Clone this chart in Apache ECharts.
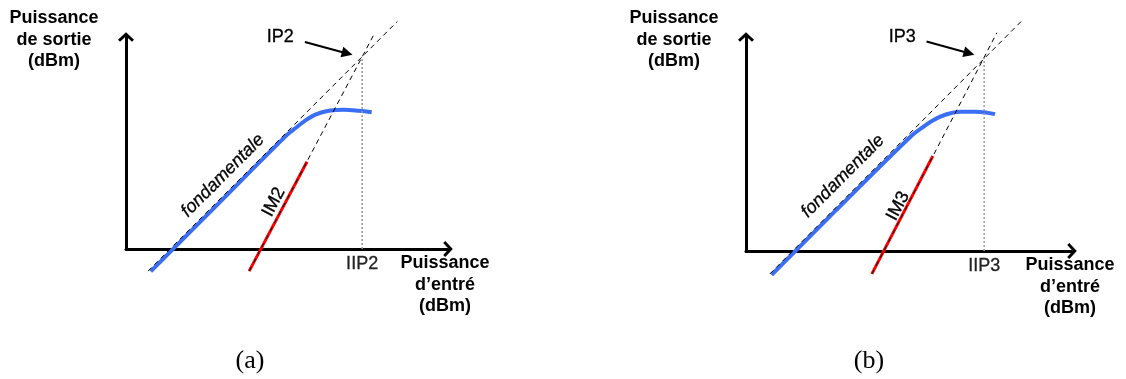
<!DOCTYPE html>
<html>
<head>
	<meta charset="utf-8">
	<title>IP2 / IP3</title>
	<script type="text/javascript" src="https://cdn.jsdelivr.net/npm/echarts@6/dist/echarts.min.js"></script>
	<style>
		html, body { margin:0; padding:0; background:#fff; }
		#DIV1 { width:1126px; height:379px; }
	</style>
</head>
<body>
	<div id="DIV1"></div>
	<script type="text/javascript">

		// panel (a) : second order intercept (x,y in dBm-like units)
		const fundA = [[7.4, -7.4], [91, 76.2]];
		const outA = [[8.3, -7.5], [30, 14.2], [54, 38.2], [57, 40.6], [60, 42.9], [63.5, 45.0], [68, 46.3], [73, 46.6], [78, 46.3], [82.4, 45.8]];
		const imA = [[41.3, -7.4], [60.7, 29.2]];
		const imDashA = [[41.3, -7.4], [83.4, 72.3]];
		const ipA = [79.2, 64.4];
		const arrowA = [[60.0, 69.3], [74.2, 65.5]];

		// panel (b) : third order intercept
		const fundB = [[7.9, -7.6], [91.1, 76.1]];
		const outB = [[8.5, -7.9], [30, 13.7], [55, 38.4], [58.5, 41.0], [62, 43.4], [66, 45.2], [71, 46.2], [76, 46.2], [82.5, 45.4]];
		const imB = [[41.7, -7.6], [61.9, 31.5]];
		const imDashB = [[41.7, -7.6], [83.1, 72.4]];
		const ipB = [78.9, 64.0];
		const arrowB = [[59.8, 69.5], [73.9, 65.6]];

		// texts
		const panelNames = ['(a)', '(b)'];
		const ipNames = ['IP2', 'IP3'];
		const iipNames = ['IIP2', 'IIP3'];
		const imNames = ['IM2', 'IM3'];
		const fundName = 'fondamentale';
		const yTitle = 'Puissance\nde sortie\n(dBm)';
		const xTitle = 'Puissance\nd\u2019entr\u00e9\n(dBm)';

		const X_MAX = 108, Y_MAX = 71;
		const FONT = '"Liberation Sans", Arial, sans-serif';
		const chevron = 'path://M8,0 L16,7.5 L14,9.6 L8,4 L2,9.6 L0,7.5 Z';

		let chart = echarts.init(document.getElementById('DIV1'));

		const axis = function(i, max){
			return {
				gridIndex: i, type: 'value', min: 0, max: max,
				axisLine: { show: true, onZero: false, symbol: ['none', chevron], symbolSize: [16, 10],
					lineStyle: { color: '#000', width: 3 } },
				axisTick: { show: false }, axisLabel: { show: false }, splitLine: { show: false }
			};
		};

		const line = function(i, data, color, width, type){
			return {
				type: 'line', xAxisIndex: i, yAxisIndex: i, data: data, symbol: 'none', clip: false,
				silent: true, lineStyle: { color: color, width: width, type: type || 'solid' }
			};
		};

		const panel = function(i, d){
			return [
				Object.assign(line(i, d.out, '#3a6ef4', 4), { smooth: 0.4 }),
				line(i, d.im, '#ff0000', 3),
				line(i, d.fund, '#000', 1, [5, 4]),
				line(i, d.imDash, '#000', 1, [5, 4]),
				line(i, [[d.ip[0], 0], d.ip], '#999', 1.5, [2, 2]),
				{
					type: 'lines', coordinateSystem: 'cartesian2d', xAxisIndex: i, yAxisIndex: i,
					clip: false, silent: true, symbol: ['none', 'triangle'], symbolSize: 11,
					lineStyle: { color: '#000', width: 2, opacity: 1 },
					data: [{ coords: d.arrow }]
				},
				{
					type: 'scatter', xAxisIndex: i, yAxisIndex: i, symbolSize: 0, clip: false, silent: true,
					itemStyle: { opacity: 1 },
					label: { show: true, formatter: '{b}', position: 'inside', fontFamily: FONT,
						fontSize: 18, color: '#000', opacity: 1,
						textBorderColor: '#000', textBorderWidth: 0.3 },
					data: [
						{ name: fundName, value: d.fundLbl, label: { rotate: 45, fontStyle: 'italic' } },
						{ name: d.imName, value: d.imLbl, label: { rotate: 62 } },
						{ name: d.ipName, value: d.ipLbl },
						{ name: d.iipName, value: [d.ip[0], -5.1], label: { color: '#222', textBorderColor: '#222' } }
					]
				}
			];
		};

		const title = function(x, y, text, font){
			return { type: 'text', x: x, y: y, silent: true,
				style: { text: text, font: font, fill: '#000', align: 'center', textAlign: 'center',
					verticalAlign: 'top', textVerticalAlign: 'top', lineHeight: 21.5 } };
		};

		const option = {
			backgroundColor: '#fff',
			animation: false,
			grid: [
				{ left: 126, top: 37, width: 322, height: 212, outerBoundsMode: 'none' },
				{ left: 746, top: 37, width: 326, height: 214, outerBoundsMode: 'none' }
			],
			xAxis: [axis(0, X_MAX), axis(1, X_MAX)],
			yAxis: [axis(0, Y_MAX), axis(1, Y_MAX)],
			series: panel(0, { out: outA, im: imA, fund: fundA, imDash: imDashA, ip: ipA, arrow: arrowA,
					fundLbl: [32.5, 24.6], imLbl: [49.6, 15.7], ipLbl: [51.7, 71.0],
					imName: imNames[0], ipName: ipNames[0], iipName: iipNames[0] })
				.concat(panel(1, { out: outB, im: imB, fund: fundB, imDash: imDashB, ip: ipB, arrow: arrowB,
					fundLbl: [32.1, 24.8], imLbl: [50.4, 14.9], ipLbl: [51.8, 70.9],
					imName: imNames[1], ipName: ipNames[1], iipName: iipNames[1] })),
			graphic: [
				title(54, 7.5, yTitle, 'bold 18px ' + FONT),
				title(674, 7.5, yTitle, 'bold 18px ' + FONT),
				title(445, 252.5, xTitle, 'bold 18px ' + FONT),
				title(1070, 254.5, xTitle, 'bold 18px ' + FONT),
				title(250, 350, panelNames[0], '26px "Liberation Serif", "Times New Roman", serif'),
				title(869, 350, panelNames[1], '26px "Liberation Serif", "Times New Roman", serif')
			]
		};
		chart.setOption(option);
	</script>
</body>
</html>
